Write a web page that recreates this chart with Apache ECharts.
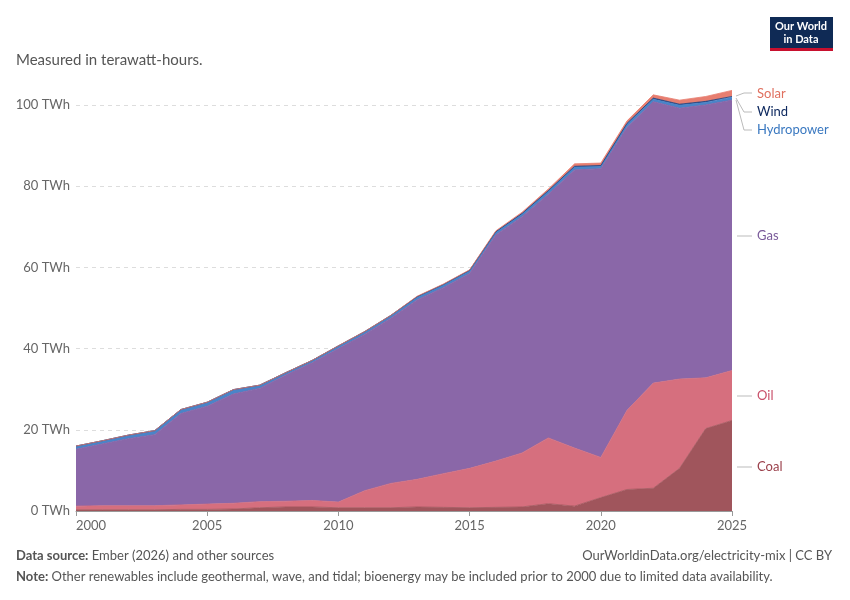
<!DOCTYPE html>
<html>
<head>
<meta charset="utf-8">
<script src="https://cdn.jsdelivr.net/npm/echarts@6/dist/echarts.min.js"></script>
<style>body{margin:0;background:#fff;font-family:Lato,sans-serif}</style>
</head>
<body>
<div id="main" style="width:850px;height:600px"></div>
<script>
var years = ['2000','2001','2002','2003','2004','2005','2006','2007','2008','2009','2010','2011','2012','2013','2014','2015','2016','2017','2018','2019','2020','2021','2022','2023','2024','2025'];
var coal  = [0.3,0.3,0.3,0.3,0.4,0.4,0.5,0.8,1,1,0.8,0.8,0.8,1,0.9,0.8,0.9,1,1.8,1.2,3.3,5.3,5.6,10.5,20.3,22.3];
var oil   = [0.9,1,1,1,1.1,1.3,1.4,1.5,1.4,1.6,1.4,4.2,6,6.8,8.3,9.7,11.4,13.3,16.2,14.3,9.9,19.5,25.9,22,12.5,12.3];
var gas   = [14,15.2,16.5,17.5,22.5,24.1,26.9,27.9,31.1,33.9,37.8,38.5,40.7,44.2,45.8,48,55.7,58.2,60,68.5,71.1,69.7,69.3,66.7,67.2,66.6];
var hydro = [0.8,0.8,0.9,1,1,1,1.1,0.8,0.6,0.6,0.6,0.6,0.6,0.7,0.7,0.7,0.7,0.7,0.8,0.8,0.6,0.8,0.7,0.8,0.7,0.7];
var wind  = [0,0,0,0,0,0,0,0,0,0,0.1,0.1,0.1,0.1,0.1,0.1,0.1,0.1,0.1,0.1,0.2,0.2,0.2,0.2,0.2,0.2];
var solar = [0,0,0,0,0,0,0,0,0,0,0,0,0,0.1,0.1,0.1,0.2,0.3,0.4,0.6,0.6,0.6,0.8,1,1.2,1.5];

var names  = ['Coal','Oil','Gas','Hydropower','Wind','Solar'];
var values = [coal, oil, gas, hydro, wind, solar];
var colors = ['#a0555c','#d66f7e','#8a67a8','#4a84c8','#1a3a78','#e77e70'];

var chart = echarts.init(document.getElementById('main'));
var series = names.map(function(n,i){
  return {
    name:n, type:'line', stack:'t', data:values[i], symbol:'none', clip:false,
    lineStyle:{width:i==2?1:0.8,color:colors[i]},
    areaStyle:{color:colors[i],opacity:1}, itemStyle:{color:colors[i]}
  };
});
chart.setOption({
  animation:false,
  grid:{left:76,right:118,top:105,bottom:89},
  xAxis:{type:'category',data:years,boundaryGap:false,
    axisLine:{lineStyle:{color:'#999'}},axisTick:{show:true,interval:4,length:5,lineStyle:{color:'#999'}},
    splitLine:{show:false},
    axisLabel:{color:'#666',fontSize:13,fontFamily:'Lato',interval:4,alignMinLabel:'left'}},
  yAxis:{type:'value',min:0,max:100,interval:20,
    axisLine:{show:false},axisTick:{show:false},
    splitLine:{lineStyle:{type:[4,4],color:'#ddd'}},
    axisLabel:{color:'#666',fontSize:13,fontFamily:'Lato',margin:6,formatter:'{value} TWh'}},
  series:series,
  graphic:[
    {type:'text',left:16,top:53,style:{text:'Measured in terawatt-hours.',fill:'#555',font:'15px Lato'}},
    {type:'rect',shape:{x:770,y:17,width:63,height:33},style:{fill:'#0f2a55'}},
    {type:'rect',shape:{x:770,y:48,width:63,height:3},style:{fill:'#c8102e'}},
    {type:'text',x:801,y:20,style:{text:'Our World\nin Data',fill:'#fff',font:'bold 11px Lato',align:'center',lineHeight:13}},
    {type:'text',left:757,top:87,style:{text:'Solar',fill:'#e0705f',font:'13px Lato'}},
    {type:'text',left:757,top:105,style:{text:'Wind',fill:'#0f2a60',font:'13px Lato'}},
    {type:'text',left:757,top:123,style:{text:'Hydropower',fill:'#3a78c0',font:'13px Lato'}},
    {type:'text',left:757,top:229,style:{text:'Gas',fill:'#7a5a9a',font:'13px Lato'}},
    {type:'text',left:757,top:389,style:{text:'Oil',fill:'#c9506a',font:'13px Lato'}},
    {type:'text',left:757,top:460,style:{text:'Coal',fill:'#9a3f4a',font:'13px Lato'}},
    {type:'polyline',shape:{points:[[736,96],[744,93],[752,93]]},style:{stroke:'#bbb',fill:null}},
    {type:'polyline',shape:{points:[[736,98],[744,112],[752,112]]},style:{stroke:'#bbb',fill:null}},
    {type:'polyline',shape:{points:[[736,100],[744,130],[752,130]]},style:{stroke:'#bbb',fill:null}},
    {type:'line',shape:{x1:737,y1:236,x2:752,y2:236},style:{stroke:'#bbb'}},
    {type:'line',shape:{x1:737,y1:396,x2:752,y2:396},style:{stroke:'#bbb'}},
    {type:'line',shape:{x1:737,y1:467,x2:752,y2:467},style:{stroke:'#bbb'}},
    {type:'text',left:16,top:549,style:{rich:{b:{fill:'#555',font:'bold 13px Lato'},n:{fill:'#555',font:'13px Lato'}},text:'{b|Data source:} {n|Ember (2026) and other sources}'}},
    {type:'text',right:18,top:549,style:{text:'OurWorldinData.org/electricity-mix | CC BY',fill:'#555',font:'13px Lato'}},
    {type:'text',left:16,top:570,style:{rich:{b:{fill:'#555',font:'bold 13px Lato'},n:{fill:'#555',font:'13px Lato'}},text:'{b|Note:} {n|Other renewables include geothermal, wave, and tidal; bioenergy may be included prior to 2000 due to limited data availability.}'}}
  ]
});
</script>
</body>
</html>
